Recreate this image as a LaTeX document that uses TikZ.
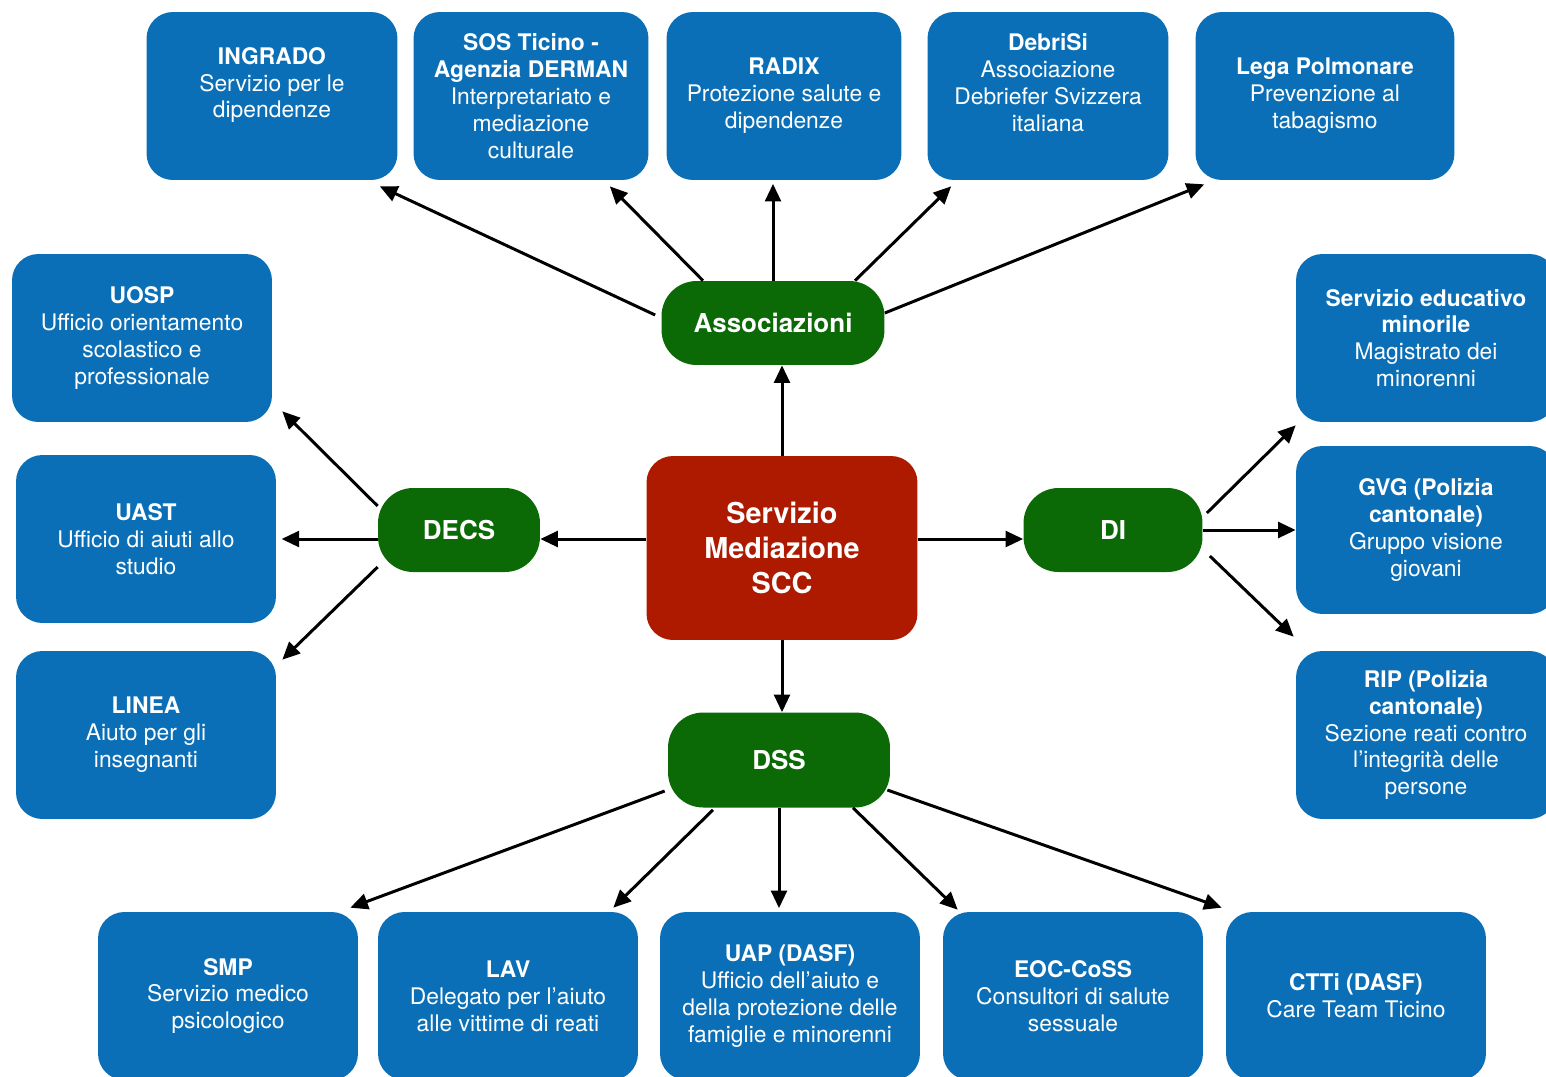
\documentclass[tikz,border=0pt]{standalone}
\usepackage{fontspec}
\setmainfont{TeX Gyre Heros}
\usetikzlibrary{arrows.meta}

\definecolor{enteblue}{RGB}{10,111,182}
\definecolor{gruppogreen}{RGB}{12,106,6}
\definecolor{sccred}{RGB}{173,26,0}

\tikzset{
  ente/.style={fill=enteblue, rounded corners=15pt, text=white, align=center,
    font=\fontsize{13}{15.3}\selectfont, minimum width=5.2cm, minimum height=3.36cm, inner sep=0pt},
  gruppo/.style={fill=gruppogreen, rounded corners=20pt, text=white,
    font=\fontsize{14.8}{17}\selectfont\bfseries, minimum height=1.68cm, inner sep=0pt},
  centro/.style={fill=sccred, rounded corners=15pt, text=white, align=center,
    font=\fontsize{16.4}{19.8}\selectfont\bfseries, minimum width=5.42cm, minimum height=3.68cm},
  freccia/.style={->, line width=1.7pt}
}

\begin{document}
\begin{tikzpicture}[x=0.02cm, y=-0.02cm, >={Triangle[length=10pt,width=9pt]}]
    \useasboundingbox (0,0) rectangle (1546,1076);

    % centro
    \node[centro] (scc) at (782,548) {Servizio\\Mediazione\\SCC};

    % gruppi
    \node[gruppo, minimum width=4.46cm] (assoc) at (773,323) {Associazioni};
    \node[gruppo, minimum width=3.24cm] (decs) at (459,530) {DECS};
    \node[gruppo, minimum width=3.58cm] (di) at (1113,530) {DI};
    \node[gruppo, minimum width=4.44cm, minimum height=1.9cm] (dss) at (779,760) {DSS};

    % associazioni
    \node[ente, minimum width=5.02cm] (ingrado) at (272,96) {\textbf{INGRADO}\\Servizio per le\\dipendenze\\~};
    \node[ente, minimum width=4.7cm] (sos) at (531,96) {\textbf{SOS Ticino -}\\\textbf{Agenzia DERMAN}\\Interpretariato e\\mediazione\\culturale};
    \node[ente, minimum width=4.7cm] (radix) at (784,96) {\textbf{RADIX}\\Protezione salute e\\dipendenze};
    \node[ente, minimum width=4.82cm] (debrisi) at (1048,96) {\textbf{DebriSi}\\Associazione\\Debriefer Svizzera\\italiana\\~};
    \node[ente, minimum width=5.18cm] (lega) at (1325,96) {\textbf{Lega Polmonare}\\Prevenzione al\\tabagismo};

    % DECS
    \node[ente] (uosp) at (142,338) {\textbf{UOSP}\\Ufficio orientamento\\scolastico e\\professionale};
    \node[ente] (uast) at (146,539) {\textbf{UAST}\\Ufficio di aiuti allo\\studio};
    \node[ente] (linea) at (146,735) {\textbf{LINEA}\\Aiuto per gli\\insegnanti};

    % DI
    \node[ente] (sem) at (1426,338) {\textbf{Servizio educativo}\\\textbf{minorile}\\Magistrato dei\\minorenni};
    \node[ente] (gvg) at (1426,530) {\textbf{GVG (Polizia}\\\textbf{cantonale)}\\Gruppo visione\\giovani};
    \node[ente] (rip) at (1426,735) {\textbf{RIP (Polizia}\\\textbf{cantonale)}\\Sezione reati contro\\l’integrità delle\\persone};

    % DSS
    \node[ente] (smp) at (228,996) {\textbf{SMP}\\Servizio medico\\psicologico};
    \node[ente] (lav) at (508,996) {\textbf{LAV}\\Delegato per l’aiuto\\alle vittime di reati};
    \node[ente] (uap) at (790,996) {\textbf{UAP (DASF)}\\Ufficio dell’aiuto e\\della protezione delle\\famiglie e minorenni};
    \node[ente] (eoc) at (1073,996) {\textbf{EOC-CoSS}\\Consultori di salute\\sessuale};
    \node[ente] (ctti) at (1356,996) {\textbf{CTTi (DASF)}\\Care Team Ticino};

    % frecce dal centro
    \draw[freccia] (scc.north) -- (scc.north |- assoc.south);
    \draw[freccia] (scc.west |- uast) -- (decs.east |- uast);
    \draw[freccia] (scc.east |- uast) -- (di.west |- uast);
    \draw[freccia] (scc.south) -- (scc.south |- dss.north);

    % frecce Associazioni
    \draw[freccia] ([shift={(-6,-8)}]assoc.west) -- ([shift={(-18,6)}]ingrado.south east);
    \draw[freccia] ([shift={(-70,0)}]assoc.north) -- ([shift={(-39,6)}]sos.south east);
    \draw[freccia, shorten >=2pt] (assoc.north) -- (assoc.north |- radix.south);
    \draw[freccia] ([shift={(82,0)}]assoc.north) -- ([shift={(24,6)}]debrisi.south west);
    \draw[freccia] ([shift={(0,-10)}]assoc.east) -- ([shift={(9,4)}]lega.south west);

    % frecce DECS
    \draw[freccia] ([shift={(0,-24)}]decs.west) -- ([shift={(10,-11)}]uosp.south east);
    \draw[freccia, shorten >=3pt] (decs.west |- uast) -- (uast.east);
    \draw[freccia] ([shift={(0,37)}]decs.west) -- ([shift={(6,9)}]linea.north east);

    % frecce DI
    \draw[freccia] ([shift={(4,-17)}]di.east) -- ([shift={(0,3)}]sem.south west);
    \draw[freccia] (di.east) -- (gvg.west);
    \draw[freccia] ([shift={(7,26)}]di.east) -- ([shift={(-2,-14)}]rip.north west);

    % frecce DSS
    \draw[freccia] ([shift={(-3,31)}]dss.west) -- ([shift={(-8,-4)}]smp.north east);
    \draw[freccia] ([shift={(-66,2)}]dss.south) -- ([shift={(-25,-4)}]lav.north east);
    \draw[freccia, shorten >=2pt] (dss.south) -- (dss.south |- uap.north);
    \draw[freccia] ([shift={(74,0)}]dss.south) -- ([shift={(15,-2)}]eoc.north west);
    \draw[freccia] ([shift={(-3,30)}]dss.east) -- ([shift={(-4,-4)}]ctti.north west);

\end{tikzpicture}
\end{document}
